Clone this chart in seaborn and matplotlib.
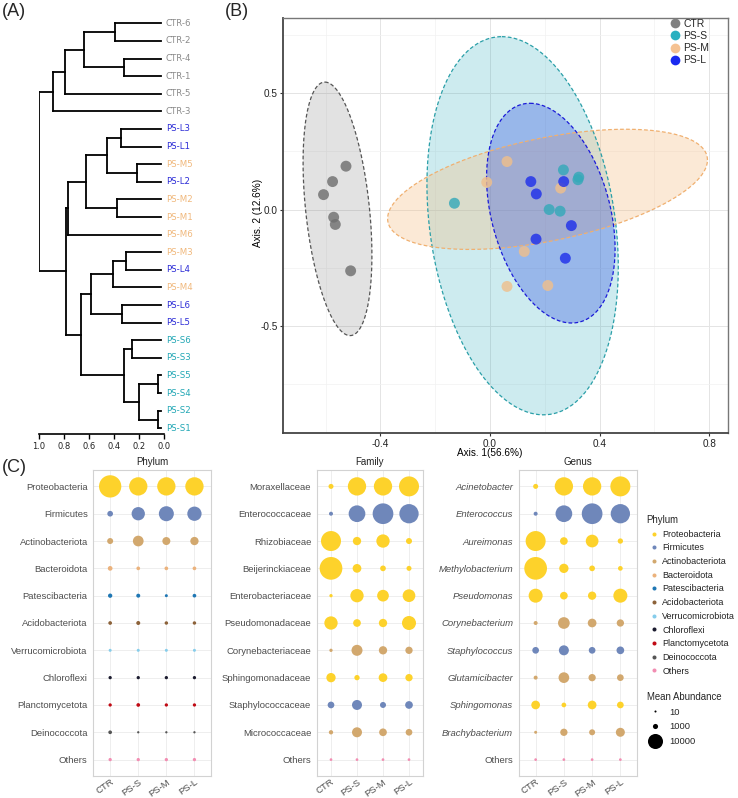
import numpy as np
import pandas as pd
import matplotlib
matplotlib.use("Agg")
import matplotlib.pyplot as plt
import seaborn as sns
from matplotlib.lines import Line2D

sns.set_theme(style="white")
plt.rcParams["font.family"] = ["Liberation Sans", "DejaVu Sans"]

# ---------------- (A) dendrogram data ----------------
leaf_order = ["CTR-6", "CTR-2", "CTR-4", "CTR-1", "CTR-5", "CTR-3",
              "PS-L3", "PS-L1", "PS-M5", "PS-L2", "PS-M2", "PS-M1", "PS-M6",
              "PS-M3", "PS-L4", "PS-M4", "PS-L6", "PS-L5",
              "PS-S6", "PS-S3", "PS-S5", "PS-S4", "PS-S2", "PS-S1"]
merge_left = ["CTR-6", "CTR-4", "n0", "n2", "n3", "PS-L3", "PS-M5", "n5", "PS-M2", "n7", "n9",
              "PS-M3", "n11", "PS-L6", "n12", "PS-S6", "PS-S5", "PS-S2", "n16", "n15", "n14", "n10", "n4"]
merge_right = ["CTR-2", "CTR-1", "n1", "CTR-5", "CTR-3", "PS-L1", "PS-L2", "n6", "PS-M1", "n8", "PS-M6",
               "PS-L4", "PS-M4", "PS-L5", "n13", "PS-S3", "PS-S4", "PS-S1", "n17", "n18", "n19", "n20", "n21"]
merge_height = [0.393, 0.319, 0.641, 0.792, 0.891, 0.346, 0.218, 0.460, 0.380, 0.625, 0.766,
                0.306, 0.412, 0.335, 0.587, 0.255, 0.053, 0.053, 0.200, 0.319, 0.665, 0.787, 1.000]
leaf_tip = 0.03

# ---------------- (B) PCoA data ----------------
groups = ["CTR", "PS-S", "PS-M", "PS-L"]
ctr_x = [-0.526, -0.575, -0.608, -0.571, -0.565, -0.509]
ctr_y = [0.186, 0.120, 0.064, -0.033, -0.064, -0.263]
pss_x = [-0.130, 0.268, 0.324, 0.321, 0.216, 0.256]
pss_y = [0.027, 0.170, 0.139, 0.128, 0.000, -0.007]
psm_x = [0.062, -0.012, 0.258, 0.125, 0.062, 0.211]
psm_y = [0.206, 0.117, 0.092, -0.180, -0.330, -0.326]
psl_x = [0.149, 0.169, 0.269, 0.297, 0.168, 0.275]
psl_y = [0.120, 0.067, 0.120, -0.069, -0.127, -0.209]
# ellipses: centre and two conjugate semi-diameters
ell_cx = [-0.557, 0.119, 0.210, 0.222]
ell_cy = [0.003, -0.0695, 0.0867, -0.0155]
ell_ux = [-0.046, -0.076, 0.584, -0.076]
ell_uy = [0.544, 0.8115, 0.126, 0.4715]
ell_vx = [0.117, 0.341, 0.0, 0.222]
ell_vy = [0.0, 0.0, 0.225, 0.0]

# ---------------- (C) bubble data ----------------
phylum_taxa = ["Proteobacteria", "Firmicutes", "Actinobacteriota", "Bacteroidota", "Patescibacteria",
               "Acidobacteriota", "Verrucomicrobiota", "Chloroflexi", "Planctomycetota",
               "Deinococcota", "Others"]
phylum_values = [[22200, 14900, 14900, 14900],
                 [1280, 7790, 9950, 9000],
                 [1440, 4980, 2700, 2920],
                 [815, 436, 436, 436],
                 [653, 540, 225, 436],
                 [436, 540, 360, 360],
                 [225, 225, 225, 225],
                 [310, 310, 310, 310],
                 [310, 436, 310, 310],
                 [436, 58, 58, 58],
                 [310, 310, 310, 310]]
family_taxa = ["Moraxellaceae", "Enterococcaceae", "Rhizobiaceae", "Beijerinckiaceae",
               "Enterobacteriaceae", "Pseudomonadaceae", "Corynebacteriaceae",
               "Sphingomonadaceae", "Staphylococcaceae", "Micrococcaceae", "Others"]
family_phylum = ["Proteobacteria", "Firmicutes", "Proteobacteria", "Proteobacteria", "Proteobacteria",
                 "Proteobacteria", "Actinobacteriota", "Proteobacteria", "Firmicutes",
                 "Actinobacteriota", "Others"]
family_values = [[946, 14900, 14900, 17840],
                 [540, 12380, 19120, 16600],
                 [17840, 2920, 7790, 1440],
                 [23030, 3230, 1280, 946],
                 [310, 7790, 5990, 7090],
                 [7790, 2490, 2920, 8650],
                 [310, 5270, 2920, 2220],
                 [3720, 1085, 3230, 2220],
                 [1840, 4320, 1440, 2490],
                 [653, 4320, 2490, 1840],
                 [148, 148, 148, 148]]
genus_taxa = ["Acinetobacter", "Enterococcus", "Aureimonas", "Methylobacterium", "Pseudomonas",
              "Corynebacterium", "Staphylococcus", "Glutamicibacter", "Sphingomonas",
              "Brachybacterium", "Others"]
genus_phylum = ["Proteobacteria", "Firmicutes", "Proteobacteria", "Proteobacteria", "Proteobacteria",
                "Actinobacteriota", "Firmicutes", "Actinobacteriota", "Proteobacteria",
                "Actinobacteriota", "Others"]
genus_values = [[946, 14900, 14900, 17840],
                [540, 12380, 19120, 16600],
                [17840, 2490, 7090, 1085],
                [23030, 3720, 1280, 815],
                [8650, 2490, 2920, 8650],
                [540, 5990, 3230, 2220],
                [1840, 4320, 1840, 2490],
                [540, 4980, 2220, 1840],
                [3230, 815, 3230, 1840],
                [225, 2220, 1440, 3470],
                [148, 148, 148, 148]]
size_breaks = [10, 1000, 10000]

# ---------------- styles ----------------
leaf_colors = {"CTR": "#8a8a8a", "PS-S": "#22a7b5", "PS-M": "#f0b87c", "PS-L": "#2b2bd6"}
pt_colors = {"CTR": "#707070", "PS-S": "#35a9b9", "PS-M": "#efbf8c", "PS-L": "#1f30ea"}
leg_colors = {"CTR": "#808080", "PS-S": "#2ab0c0", "PS-M": "#f5c292", "PS-L": "#1a2af0"}
ell_fill = {"CTR": "#8c8c8c", "PS-S": "#3ab0c0", "PS-M": "#f5c08a", "PS-L": "#2040e0"}
ell_alpha = {"CTR": 0.25, "PS-S": 0.25, "PS-M": 0.35, "PS-L": 0.30}
ell_edge = {"CTR": "#555555", "PS-S": "#2a9fa8", "PS-M": "#f0b070", "PS-L": "#1a1ad8"}
phylum_colors = {"Proteobacteria": "#FDD22B", "Firmicutes": "#6F87BA", "Actinobacteriota": "#D2A86E",
                 "Bacteroidota": "#EBB27C", "Patescibacteria": "#1F77B4", "Acidobacteriota": "#8C6239",
                 "Verrucomicrobiota": "#86CDEB", "Chloroflexi": "#1B1B2F", "Planctomycetota": "#C00A14",
                 "Deinococcota": "#555555", "Others": "#F28DB2"}

W, H = 738, 798
fig = plt.figure(figsize=(W / 100, H / 100), dpi=100)


def box(l, t, r, b):
    return [l / W, 1 - b / H, (r - l) / W, (b - t) / H]


# ================= (A) =================
axd = fig.add_axes(box(39, 14.5, 164.3, 434.3))
ny = {n: i for i, n in enumerate(leaf_order)}
nh = {n: leaf_tip for n in leaf_order}
for i, (a, b, h) in enumerate(zip(merge_left, merge_right, merge_height)):
    ya, yb = ny[a], ny[b]
    kw = dict(color="black", lw=1.3, solid_capstyle="projecting")
    axd.plot([h, h], [ya, yb], **kw)
    axd.plot([nh[a], h], [ya, ya], **kw)
    axd.plot([nh[b], h], [yb, yb], **kw)
    ny["n%d" % i] = (ya + yb) / 2
    nh["n%d" % i] = h
for i, n in enumerate(leaf_order):
    g = n[:4] if n.startswith("PS") else "CTR"
    axd.text(-0.012, i, n, color=leaf_colors[g], fontsize=6.2, va="center", ha="left",
             clip_on=False, family="DejaVu Sans")
axd.set_xlim(1.0, 0.0)
axd.set_ylim(23.34, -0.5)
for s in ["top", "right", "left"]:
    axd.spines[s].set_visible(False)
axd.spines["bottom"].set_color("black")
axd.spines["bottom"].set_linewidth(1.2)
axd.set_xticks([1.0, 0.8, 0.6, 0.4, 0.2, 0.0])
axd.set_xticklabels(["1.0", "0.8", "0.6", "0.4", "0.2", "0.0"], family="DejaVu Sans")
axd.set_yticks([])
axd.tick_params(axis="x", length=3.5, width=1.0, color="black", labelsize=6, pad=2,
                labelcolor="#222222", bottom=True)
axd.set_facecolor("none")

# ================= (B) =================
axp = fig.add_axes(box(283, 18, 728, 433))
t = np.linspace(0, 2 * np.pi, 300)
for k, g in enumerate(groups):
    ex = ell_cx[k] + ell_ux[k] * np.cos(t) + ell_vx[k] * np.sin(t)
    ey = ell_cy[k] + ell_uy[k] * np.cos(t) + ell_vy[k] * np.sin(t)
    axp.fill(ex, ey, color=ell_fill[g], alpha=ell_alpha[g], lw=0, zorder=1)
    axp.plot(ex, ey, color=ell_edge[g], lw=0.9, dashes=(3.0, 1.8), zorder=2)

pc = pd.DataFrame({
    "x": ctr_x + pss_x + psm_x + psl_x,
    "y": ctr_y + pss_y + psm_y + psl_y,
    "group": ["CTR"] * len(ctr_x) + ["PS-S"] * len(pss_x) + ["PS-M"] * len(psm_x) + ["PS-L"] * len(psl_x),
})
sns.scatterplot(data=pc, x="x", y="y", hue="group", palette=pt_colors, s=62, alpha=0.82,
                linewidth=0, legend=False, ax=axp, zorder=3)
axp.set_xlim(-0.756, 0.869)
axp.set_ylim(-0.959, 0.822)
axp.set_xticks([-0.4, 0.0, 0.4, 0.8])
axp.set_xticklabels(["-0.4", "0.0", "0.4", "0.8"])
axp.set_yticks([-0.5, 0.0, 0.5])
axp.set_yticklabels(["-0.5", "0.0", "0.5"])
axp.set_xticks([-0.6, -0.2, 0.2, 0.6], minor=True)
axp.set_yticks([-0.75, -0.25, 0.25, 0.75], minor=True)
axp.grid(which="major", color="#e4e4e4", lw=0.7)
axp.grid(which="minor", color="#f1f1f1", lw=0.5)
axp.set_axisbelow(True)
axp.tick_params(which="major", length=2.5, width=0.8, color="#333333", labelsize=7.2,
                labelcolor="#222222", pad=1.5, bottom=True, left=True)
axp.tick_params(which="minor", length=0)
for s in ["top", "right"]:
    axp.spines[s].set_color("#777777")
    axp.spines[s].set_linewidth(1.0)
for s in ["left", "bottom"]:
    axp.spines[s].set_color("#444444")
    axp.spines[s].set_linewidth(1.3)
axp.set_xlabel("Axis. 1(56.6%)", fontsize=7.2, color="black", labelpad=2)
axp.set_ylabel("Axis. 2 (12.6%)", fontsize=7.2, color="black", labelpad=4)
axp.xaxis.set_label_coords((490 - 283) / 445, -0.035)
axp.yaxis.set_label_coords(-0.045, (433 - 213) / 415)
hb = [Line2D([], [], marker="o", ls="", color=leg_colors[g], markersize=7, markeredgewidth=0)
      for g in groups]
axp.legend(hb, groups, loc="upper left", bbox_to_anchor=(670 / W, 1 - 19 / H),
           bbox_transform=fig.transFigure, frameon=False, fontsize=7.5, handlelength=1.0,
           handletextpad=0.25, labelspacing=0.2, borderpad=0, borderaxespad=0)

# ================= (C) =================
S_MIN, S_MAX = 2.07, 2.07 + 0.01151 * 25000


def bubble(ax, taxa, phyla, values, title, xlim, italic=False):
    rows = []
    for tx, ph, vals in zip(taxa, phyla, values):
        for g, v in zip(groups, vals):
            rows.append((tx, g, v, ph))
    df = pd.DataFrame(rows, columns=["taxon", "group", "abundance", "phylum"])
    sns.scatterplot(data=df, x="group", y="taxon", hue="phylum", size="abundance",
                    sizes=(S_MIN, S_MAX), size_norm=(0, 25000), palette=phylum_colors,
                    linewidth=0, legend=False, ax=ax, zorder=3)
    ax.set_xlim(*xlim)
    ax.set_ylim(10.6, -0.6)
    ax.set_xlabel("")
    ax.set_ylabel("")
    ax.grid(True, color="#ebebeb", lw=0.6)
    ax.set_axisbelow(True)
    for s in ax.spines.values():
        s.set_color("#d2d2d2")
        s.set_linewidth(0.8)
    ax.tick_params(length=0, labelsize=6.8, labelcolor="#4d4d4d")
    ax.tick_params(axis="y", pad=4)
    ax.tick_params(axis="x", pad=1)
    for lab in ax.get_xticklabels():
        lab.set_rotation(35)
        lab.set_ha("right")
        lab.set_va("top")
        lab.set_rotation_mode("anchor")
    if italic:
        for lab in ax.get_yticklabels():
            if lab.get_text() != "Others":
                lab.set_fontstyle("italic")
    ax.set_title(title, fontsize=7, color="#222222", pad=3.5)


ax1 = fig.add_axes(box(93.3, 470, 211.3, 776))
bubble(ax1, phylum_taxa, phylum_taxa, phylum_values, "Phylum", (-0.6, 3.6))
ax2 = fig.add_axes(box(316.7, 470, 423.3, 776))
bubble(ax2, family_taxa, family_phylum, family_values, "Family", (-0.55, 3.55))
ax3 = fig.add_axes(box(518.7, 470, 637.3, 776))
bubble(ax3, genus_taxa, genus_phylum, genus_values, "Genus", (-0.6, 3.6), italic=True)

# legends
hp = [Line2D([], [], marker="o", ls="", color=phylum_colors[p], markersize=2.9, markeredgewidth=0)
      for p in phylum_taxa]
leg1 = fig.legend(hp, phylum_taxa, title="Phylum", loc="upper left",
                  bbox_to_anchor=(646.7 / W, 1 - 515 / H), frameon=False, fontsize=6.5,
                  title_fontsize=6.9, handlelength=1.6, handletextpad=0.12, labelspacing=0.52,
                  borderpad=0, borderaxespad=0)
leg1._legend_box.align = "left"
for tx in leg1.get_texts():
    tx.set_color("#222222")
hs = [Line2D([], [], marker="o", ls="", color="black",
             markersize=np.sqrt(S_MIN + (S_MAX - S_MIN) * v / 25000), markeredgewidth=0)
      for v in size_breaks]
leg2 = fig.legend(hs, [str(v) for v in size_breaks], title="Mean Abundance", loc="upper left",
                  bbox_to_anchor=(646.7 / W, 1 - 692 / H), frameon=False, fontsize=6.8,
                  title_fontsize=6.9, handlelength=1.8, handletextpad=0.6, labelspacing=0.6,
                  borderpad=0, borderaxespad=0)
leg2._legend_box.align = "left"

# panel tags
fig.text(2 / W, 1 - 12 / H, "(A)", fontsize=13, va="center", ha="left")
fig.text(225 / W, 1 - 12 / H, "(B)", fontsize=13, va="center", ha="left")
fig.text(2 / W, 1 - 468 / H, "(C)", fontsize=13, va="center", ha="left")

fig.savefig("out.png", dpi=100)
